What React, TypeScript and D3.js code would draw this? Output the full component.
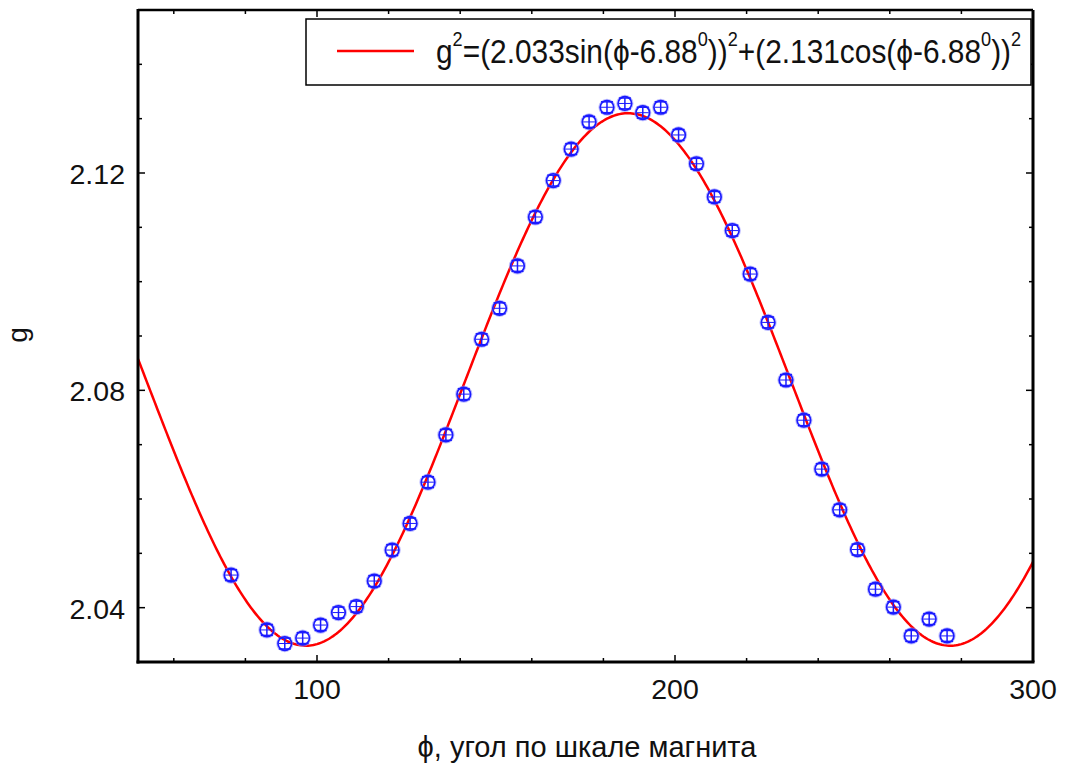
import React from "react";
import * as d3 from "d3";

// Measured points: angle phi (deg) and g
const phiValues = [76, 86, 91, 96, 101, 106, 111, 116, 121, 126, 131, 136, 141, 146, 151, 156, 161, 166, 171, 176, 181, 186, 191, 196, 201, 206, 211, 216, 221, 226, 231, 236, 241, 246, 251, 256, 261, 266, 271, 276];
const gValues = [2.0460, 2.0359, 2.0334, 2.0344, 2.0368, 2.0391, 2.0402, 2.0449, 2.0506, 2.0555, 2.0631, 2.0718, 2.0793, 2.0894, 2.0951, 2.1029, 2.1119, 2.1186, 2.1244, 2.1294, 2.1321, 2.1328, 2.1311, 2.1321, 2.1270, 2.1217, 2.1156, 2.1094, 2.1014, 2.0925, 2.0819, 2.0745, 2.0655, 2.0580, 2.0507, 2.0434, 2.0401, 2.0348, 2.0379, 2.0348];
const gError = 0.001;

// Fit parameters from the legend
const fitA = 2.033;
const fitB = 2.131;
const fitPhi0 = 6.88;

const xDomain = [50, 300];
const yDomain = [2.03, 2.15];
const xMajorTicks = [100, 200, 300];
const xMinorTicks = [60, 80, 120, 140, 160, 180, 220, 240, 260, 280];
const yMajorTicks = [2.04, 2.08, 2.12];
const yMinorTicks = [2.05, 2.06, 2.07, 2.09, 2.10, 2.11, 2.13, 2.14];

const xTitle = "ϕ, угол по шкале магнита";
const yTitle = "g";

const W = 1066, H = 771;
const L = 138, R = 1033, T = 10, B = 662;
const FONT = "'Liberation Sans', Arial, Helvetica, sans-serif";

function fitG(phi: number) {
  const r = ((phi - fitPhi0) * Math.PI) / 180;
  const s = fitA * Math.sin(r);
  const c = fitB * Math.cos(r);
  return Math.sqrt(s * s + c * c);
}

export default function App() {
  const x = d3.scaleLinear().domain(xDomain).range([L, R]);
  const y = d3.scaleLinear().domain(yDomain).range([B, T]);

  const samples = d3.range(xDomain[0], xDomain[1] + 0.001, 0.5);
  const line = d3
    .line<number>()
    .x((p) => x(p))
    .y((p) => y(fitG(p)));
  const curvePath = line(samples) || "";

  const blue = "#1a1aff";
  const major = 7, minor = 4;
  const sup = 20, up = 17;

  return (
    <svg width={W} height={H} style={{ position: "absolute", left: 0, top: 0, background: "#fff" }} fontFamily={FONT}>
      <rect x={0} y={0} width={W} height={H} fill="#fff" />
      <defs>
        <clipPath id="plotClip">
          <rect x={L} y={T} width={R - L} height={B - T} />
        </clipPath>
      </defs>

      {/* curve */}
      <path d={curvePath} fill="none" stroke="#ff0000" strokeWidth={2.5} clipPath="url(#plotClip)" />

      {/* points */}
      {phiValues.map((p, i) => {
        const cx = x(p);
        const cy = y(gValues[i]);
        const y1 = y(gValues[i] + gError);
        const y2 = y(gValues[i] - gError);
        return (
          <g key={i}>
            <circle cx={cx} cy={cy} r={7.2} fill="none" stroke="#8f8fff" strokeWidth={2.8} opacity={0.6} />
            <circle cx={cx} cy={cy} r={6.8} fill="none" stroke={blue} strokeWidth={1.6} />
            <line x1={cx} x2={cx} y1={y1} y2={y2} stroke={blue} strokeWidth={1.5} />
            <line x1={cx - 6} x2={cx + 6} y1={y1} y2={y1} stroke={blue} strokeWidth={1.5} />
            <line x1={cx - 6} x2={cx + 6} y1={y2} y2={y2} stroke={blue} strokeWidth={1.5} />
            <line x1={cx - 6} x2={cx + 6} y1={cy} y2={cy} stroke={blue} strokeWidth={1} />
          </g>
        );
      })}

      {/* frame */}
      <line x1={L} x2={R} y1={T} y2={T} stroke="#000" strokeWidth={2.5} />
      <line x1={R} x2={R} y1={T} y2={B} stroke="#000" strokeWidth={3} />
      <line x1={L} x2={L} y1={T - 1} y2={B + 1.5} stroke="#000" strokeWidth={3} />
      <line x1={L - 1.5} x2={R + 1.5} y1={B} y2={B} stroke="#000" strokeWidth={3} />

      {/* x ticks */}
      {xMajorTicks.concat(xMinorTicks).map((t) => {
        const len = xMajorTicks.includes(t) ? major : minor;
        return (
          <g key={"xt" + t}>
            <line x1={x(t)} x2={x(t)} y1={B} y2={B - len} stroke="#000" strokeWidth={1.5} />
            <line x1={x(t)} x2={x(t)} y1={T} y2={T + len} stroke="#000" strokeWidth={1.5} />
          </g>
        );
      })}
      {xMajorTicks.map((t) => (
        <text key={"xl" + t} x={x(t)} y={699} textAnchor="middle" fontSize={28.5} fill="#111">
          {t}
        </text>
      ))}

      {/* y ticks */}
      {yMajorTicks.concat(yMinorTicks).map((t) => {
        const len = yMajorTicks.includes(t) ? major : minor;
        return (
          <g key={"yt" + t}>
            <line x1={L} x2={L + len} y1={y(t)} y2={y(t)} stroke="#000" strokeWidth={1.5} />
            <line x1={R} x2={R - len} y1={y(t)} y2={y(t)} stroke="#000" strokeWidth={1.5} />
          </g>
        );
      })}
      {yMajorTicks.map((t) => (
        <text key={"yl" + t} x={125} y={y(t) + 11} textAnchor="end" fontSize={28.5} fill="#111">
          {t.toFixed(2)}
        </text>
      ))}

      {/* titles */}
      <text x={587} y={757} textAnchor="middle" fontSize={29} fill="#111">
        {xTitle}
      </text>
      <text transform={`translate(27,335) rotate(-90)`} textAnchor="middle" fontSize={28} fill="#111">
        {yTitle}
      </text>

      {/* legend */}
      <rect x={306} y={19} width={725} height={66} fill="#fff" stroke="#000" strokeWidth={1.5} />
      <line x1={337} x2={414} y1={51} y2={51} stroke="#ff0000" strokeWidth={2.5} />
      <text transform="translate(436,63) scale(0.905,1)" fontSize={33} fill="#111">
        <tspan>g</tspan>
        <tspan fontSize={sup} dy={-up}>2</tspan>
        <tspan dy={up}>=(2.033sin(ϕ-6.88</tspan>
        <tspan fontSize={sup} dy={-up}>0</tspan>
        <tspan dy={up}>))</tspan>
        <tspan fontSize={sup} dy={-up}>2</tspan>
        <tspan dy={up}>+(2.131cos(ϕ-6.88</tspan>
        <tspan fontSize={sup} dy={-up}>0</tspan>
        <tspan dy={up}>))</tspan>
        <tspan fontSize={sup} dy={-up}>2</tspan>
      </text>
    </svg>
  );
}
